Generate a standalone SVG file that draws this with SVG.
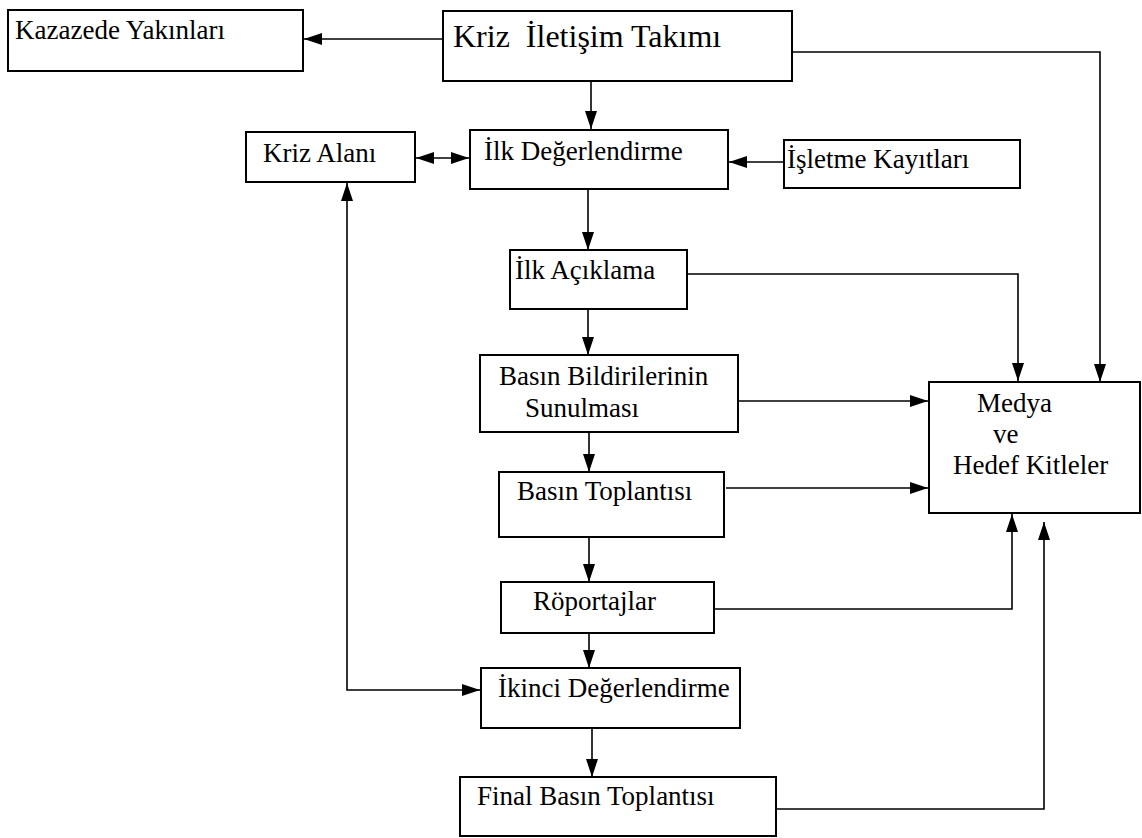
<svg xmlns="http://www.w3.org/2000/svg" width="1142" height="838" viewBox="0 0 1142 838">
  <style>
    .box { fill: #ffffff; stroke: #000000; stroke-width: 2; }
    .lbl { font-family: "Liberation Serif", "Times New Roman", serif; font-size: 27px; fill: #000000; }
    .title { font-size: 32px; }
    .wire { fill: none; stroke: #000000; stroke-width: 1.6; }
  </style>
  <defs>
    <marker id="head" markerUnits="userSpaceOnUse" markerWidth="18" markerHeight="12" refX="18" refY="6" orient="auto-start-reverse">
      <path d="M0,0 L18,6 L0,12 z" fill="#000000"/>
    </marker>
  </defs>

  <rect width="1142" height="838" fill="#ffffff"/>

  <!-- connectors -->
  <g id="connectors">
    <path class="wire" d="M443,39 H304" marker-end="url(#head)"/>
    <path class="wire" d="M591,81 V129" marker-end="url(#head)"/>
    <path class="wire" d="M792,52 H1100 V382" marker-end="url(#head)"/>
    <path class="wire" d="M784,162 H729" marker-end="url(#head)"/>
    <path class="wire" d="M416,158 H469" marker-start="url(#head)" marker-end="url(#head)"/>
    <path class="wire" d="M588,189 V250" marker-end="url(#head)"/>
    <path class="wire" d="M687,274 H1018 V381" marker-end="url(#head)"/>
    <path class="wire" d="M588,309 V355" marker-end="url(#head)"/>
    <path class="wire" d="M736,401 H928" marker-end="url(#head)"/>
    <path class="wire" d="M589,432 V472" marker-end="url(#head)"/>
    <path class="wire" d="M726,488 H928" marker-end="url(#head)"/>
    <path class="wire" d="M589,537 V582" marker-end="url(#head)"/>
    <path class="wire" d="M714,609 H1012 V514" marker-end="url(#head)"/>
    <path class="wire" d="M589,633 V668" marker-end="url(#head)"/>
    <path class="wire" d="M347,183 V690 H480" marker-start="url(#head)" marker-end="url(#head)"/>
    <path class="wire" d="M592,728 V777" marker-end="url(#head)"/>
    <path class="wire" d="M774,809 H1044 V522" marker-end="url(#head)"/>
  </g>

  <g id="kazazede-yakinlari">
    <rect class="box" x="8" y="10" width="295" height="61"/>
    <text class="lbl" x="15" y="39">Kazazede Yakınları</text>
  </g>

  <g id="kriz-iletisim-takimi">
    <rect class="box" x="443" y="11" width="349" height="70"/>
    <text class="lbl title" x="453" y="47">Kriz&#160; İletişim Takımı</text>
  </g>

  <g id="kriz-alani">
    <rect class="box" x="246" y="132" width="169" height="50"/>
    <text class="lbl" x="263" y="162">Kriz Alanı</text>
  </g>

  <g id="ilk-degerlendirme">
    <rect class="box" x="470" y="130" width="258" height="59"/>
    <text class="lbl" x="484" y="160">İlk Değerlendirme</text>
  </g>

  <g id="isletme-kayitlari">
    <rect class="box" x="784" y="140" width="236" height="48"/>
    <text class="lbl" x="787" y="168">İşletme Kayıtları</text>
  </g>

  <g id="ilk-aciklama">
    <rect class="box" x="510" y="250" width="177" height="59"/>
    <text class="lbl" x="515" y="279">İlk Açıklama</text>
  </g>

  <g id="basin-bildirileri">
    <rect class="box" x="480" y="355" width="258" height="77"/>
    <text class="lbl" x="499" y="385">Basın Bildirilerinin</text>
    <text class="lbl" x="525" y="417">Sunulması</text>
  </g>

  <g id="basin-toplantisi">
    <rect class="box" x="499" y="472" width="225" height="65"/>
    <text class="lbl" x="517" y="500">Basın Toplantısı</text>
  </g>

  <g id="roportajlar">
    <rect class="box" x="501" y="582" width="213" height="51"/>
    <text class="lbl" x="533" y="610">Röportajlar</text>
  </g>

  <g id="ikinci-degerlendirme">
    <rect class="box" x="481" y="668" width="259" height="60"/>
    <text class="lbl" x="498" y="697">İkinci Değerlendirme</text>
  </g>

  <g id="final-basin-toplantisi">
    <rect class="box" x="460" y="777" width="316" height="59"/>
    <text class="lbl" x="477" y="805">Final Basın Toplantısı</text>
  </g>

  <g id="medya-hedef-kitleler">
    <rect class="box" x="929" y="382" width="211" height="131"/>
    <text class="lbl" x="977" y="412">Medya</text>
    <text class="lbl" x="993" y="443">ve</text>
    <text class="lbl" x="953" y="474">Hedef Kitleler</text>
  </g>
</svg>
